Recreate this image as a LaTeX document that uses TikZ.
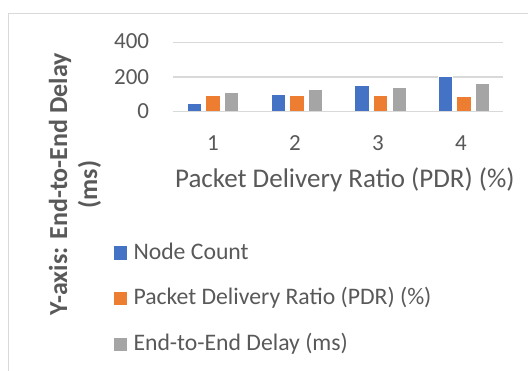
\documentclass[tikz,border=0pt]{standalone}
\usepackage{fontspec}
\setmainfont{Carlito}
\definecolor{cblue}{HTML}{4472C4}
\definecolor{corange}{HTML}{ED7D31}
\definecolor{cgray}{HTML}{A5A5A5}
\definecolor{txt}{HTML}{595959}
\definecolor{gridc}{HTML}{D9D9D9}
\begin{document}
\begin{tikzpicture}[x=1pt,y=-1pt,
  lbl/.style={inner sep=0pt, text=txt, font=\fontsize{23}{27}\selectfont},
  ttl/.style={inner sep=0pt, text=txt, font=\fontsize{27}{31}\selectfont},
  ytl/.style={inner sep=0pt, text=txt, font=\bfseries\fontsize{26}{30}\selectfont, align=center},
  leg/.style={inner sep=0pt, text=txt, font=\fontsize{23.7}{27}\selectfont},
  gridline/.style={draw=gridc, line width=1.5pt},
  barout/.style={draw=white, line width=0.6pt}]
\useasboundingbox (0,0) rectangle (528,370);
\fill[white] (0,0) rectangle (528,370);
% chart frame
\draw[gridc, line width=1pt] (8.3,371) -- (8.3,13.3) -- (529,13.3);
% gridlines
\foreach \yy in {42.3,76.9,111.5}{
  \draw[gridline] (173,\yy) -- (503,\yy);
}
% bars
\foreach \i/\a/\b/\c in {0/50/95/110, 1/100/93/125, 2/150/92/140, 3/200/90/160}{
  \pgfmathsetmacro\cx{213+83.67*\i}
  \filldraw[fill=cblue, barout] (\cx-25.7,111.5) rectangle (\cx-11.3,{111.5-0.174*\a});
  \filldraw[fill=corange, barout] (\cx-7.3,111.5) rectangle (\cx+7.3,{111.5-0.174*\b});
  \filldraw[fill=cgray, barout] (\cx+11.7,111.5) rectangle (\cx+25.7,{111.5-0.174*\c});
}
\draw[gridline] (173,111.5) -- (503,111.5);
% tick labels
\node[lbl, anchor=base east] (t400) at (149.3,48.3) {400};
\node[lbl, anchor=base east] (t200) at (149.3,84.3) {200};
\node[lbl, anchor=base east] (t0) at (149.3,118.3) {0};
% category labels
\node[lbl, anchor=base] (c1) at (213,150) {1};
\node[lbl, anchor=base] (c2) at (295,150) {2};
\node[lbl, anchor=base] (c3) at (378,150) {3};
\node[lbl, anchor=base] (c4) at (461,150) {4};
% axis titles
\node[ttl, anchor=base] (xt) at (344.8,187.3) {Packet Delivery Ratio (PDR) (\%)};
\node[ytl, rotate=90] (yt) at (75,184.5) {Y-axis: End-to-End Delay\\(ms)};
% legend
\fill[cblue] (114,246) rectangle (127.3,259.5);
\node[leg, anchor=base west] (l1) at (133.3,259) {Node Count};
\fill[corange] (114,291.7) rectangle (127.3,305);
\node[leg, anchor=base west] (l2) at (133.3,304.3) {Packet Delivery Ratio (PDR) (\%)};
\fill[cgray] (114,337.5) rectangle (127.3,350.5);
\node[leg, anchor=base west] (l3) at (133.3,350) {End-to-End Delay (ms)};
\end{tikzpicture}
\end{document}
